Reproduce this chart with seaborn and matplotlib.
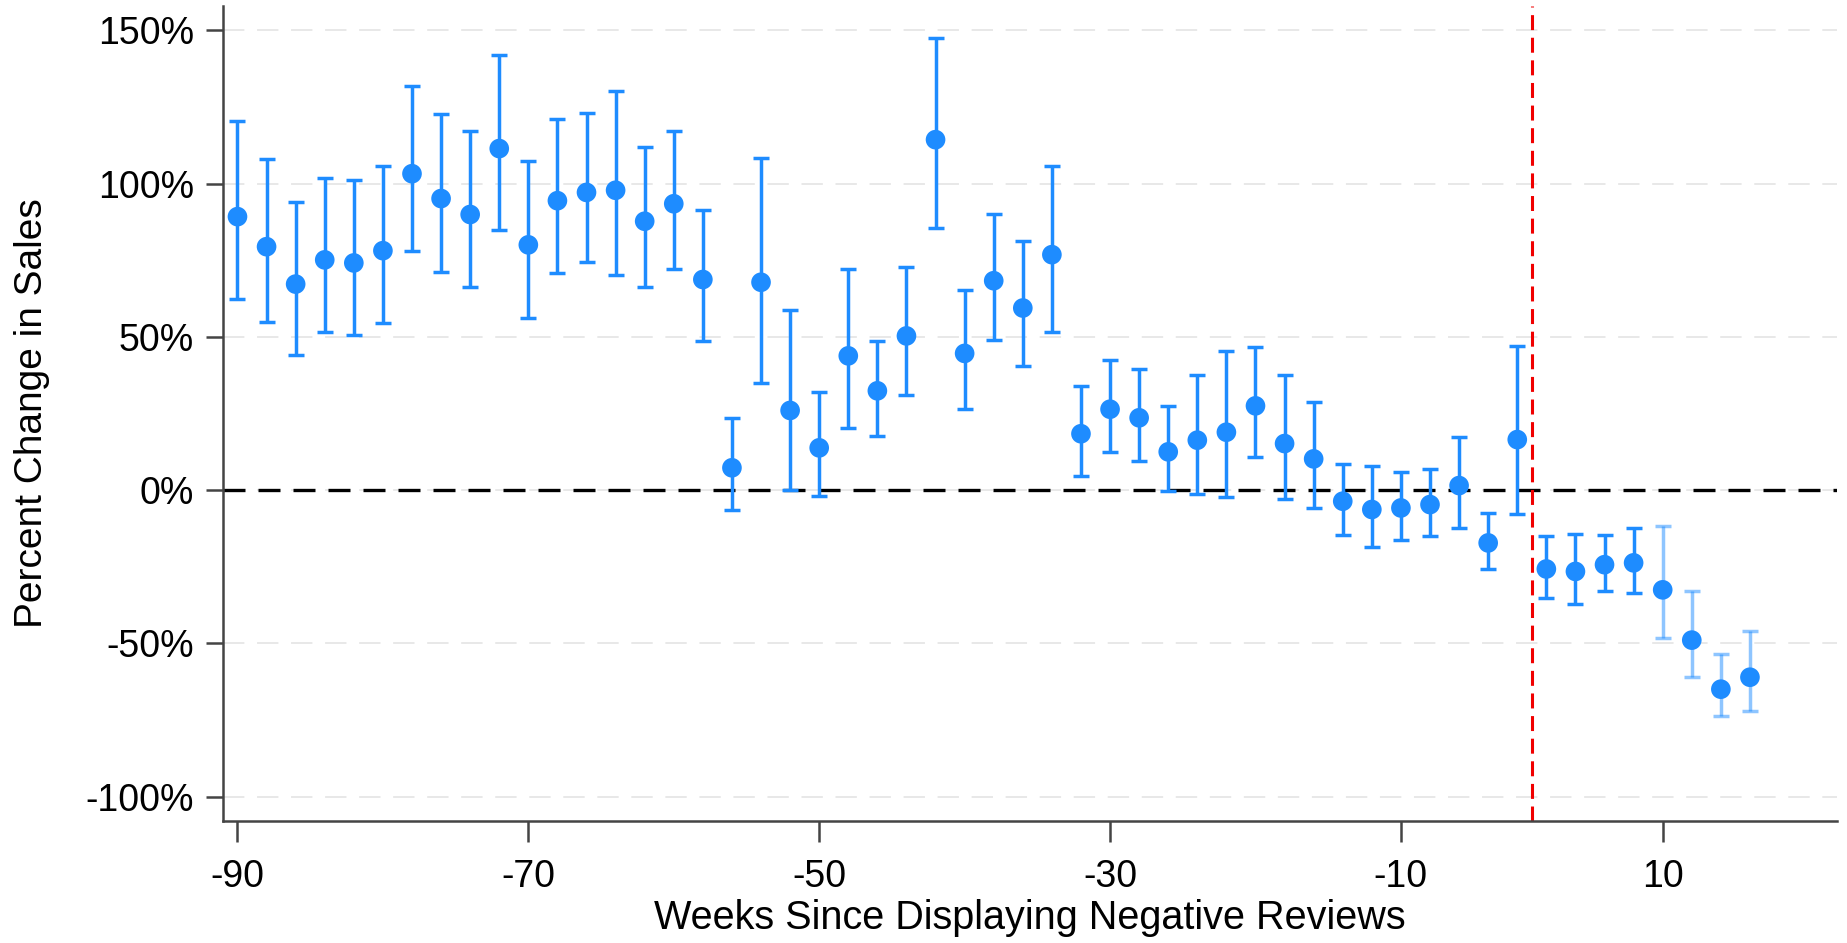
import numpy as np
import pandas as pd
import matplotlib
matplotlib.use("Agg")
import matplotlib.pyplot as plt
import seaborn as sns

# event-time coefficients (percent change in sales) and 95% CIs
weeks = [-90, -88, -86, -84, -82, -80, -78, -76, -74, -72,
         -70, -68, -66, -64, -62, -60, -58, -56, -54, -52,
         -50, -48, -46, -44, -42, -40, -38, -36, -34, -32,
         -30, -28, -26, -24, -22, -20, -18, -16, -14, -12,
         -10, -8, -6, -4, -2, 2, 4, 6, 8, 10, 12, 14, 16]
coef = [89.2, 79.4, 67.2, 75.1, 74.1, 78.1, 103.2, 95.1, 89.9, 111.4,
        80.0, 94.4, 97.1, 97.8, 87.7, 93.4, 68.7, 7.3, 67.8, 26.0,
        13.8, 43.8, 32.4, 50.3, 114.3, 44.6, 68.3, 59.4, 76.8, 18.4,
        26.4, 23.6, 12.5, 16.3, 18.9, 27.5, 15.2, 10.2, -3.6, -6.3,
        -5.8, -4.7, 1.5, -17.2, 16.5, -25.7, -26.5, -24.3, -23.7, -32.5,
        -48.9, -64.9, -61.0]
ci_high = [120.4, 108.0, 94.1, 101.7, 101.3, 105.6, 131.8, 122.7, 117.0, 142.0,
           107.5, 121.1, 123.1, 130.2, 111.8, 117.0, 91.4, 23.6, 108.2, 58.7,
           32.0, 72.0, 48.7, 72.9, 147.5, 65.4, 90.1, 81.1, 105.8, 33.9,
           42.5, 39.5, 27.5, 37.6, 45.3, 46.7, 37.4, 28.8, 8.4, 7.8,
           5.9, 7.0, 17.5, -7.5, 46.9, -14.9, -14.3, -14.5, -12.3, -11.8,
           -32.8, -53.4, -45.8]
ci_low = [62.5, 54.7, 44.0, 51.7, 50.7, 54.5, 78.0, 71.2, 66.1, 84.9,
          56.2, 70.9, 74.3, 70.2, 66.4, 72.0, 48.8, -6.5, 35.1, 0.0,
          -2.0, 20.4, 17.6, 30.9, 85.6, 26.4, 49.0, 40.6, 51.7, 4.6,
          12.4, 9.6, -0.3, -1.4, -2.3, 10.9, -3.0, -5.8, -14.5, -18.5,
          -16.1, -15.0, -12.4, -25.7, -7.7, -35.1, -37.0, -33.0, -33.6, -48.3,
          -61.0, -73.7, -72.0]
faded_weeks = [10, 12, 14, 16]
xtick_weeks = [-90, -70, -50, -30, -10, 10]
ytick_vals = [-100, -50, 0, 50, 100, 150]

df = pd.DataFrame({"week": weeks, "coef": coef, "lo": ci_low, "hi": ci_high})
df["pos"] = np.arange(len(df))
df["faded"] = df["week"].isin(faded_weeks)

sns.set_theme(style="white")
plt.rcParams["font.family"] = ["Liberation Sans", "DejaVu Sans"]

blue = "#1E8CFF"
axis_grey = "#444444"
fig = plt.figure(figsize=(18.47, 9.43), dpi=100)
ax = fig.add_axes([0.1207, 0.129, 0.874, 0.865])

# light dashed gridlines at each y tick
for v in ytick_vals:
    ax.axhline(v, color="#E8E8E8", lw=1.4, dashes=(11, 6.5), zorder=0)

for faded, sub in df.groupby("faded"):
    ax.errorbar(sub["pos"], sub["coef"],
                yerr=[sub["coef"] - sub["lo"], sub["hi"] - sub["coef"]],
                fmt="none", ecolor=blue, elinewidth=2.5, capsize=6, capthick=2.5,
                alpha=0.5 if faded else 1.0, zorder=2)
sns.scatterplot(data=df, x="pos", y="coef", ax=ax, color=blue, s=200,
                edgecolor="none", zorder=3, legend=False)

ax.axhline(0, color="black", lw=2.4, dashes=(6.6, 3.9), zorder=1)
pre_last = df.loc[df["week"] < 0, "pos"].max()
ax.axvline(pre_last + 0.5, color="#F00000", lw=2.2, dashes=(4.9, 2.5), zorder=1)

ax.set_xlim(-0.5, 55)
ax.set_ylim(-108, 158)
pos_of = dict(zip(df["week"], df["pos"]))
ax.set_xticks([pos_of[w] for w in xtick_weeks])
ax.set_xticklabels([str(w) for w in xtick_weeks], fontsize=27)
ax.set_yticks(ytick_vals)
ax.set_yticklabels([f"{v}%" for v in ytick_vals], fontsize=27)

ax.set_xlabel("Weeks Since Displaying Negative Reviews", fontsize=28.5,
              labelpad=3, color="black")
ax.set_ylabel("Percent Change in Sales", fontsize=28, color="black")
ax.yaxis.set_label_coords(-0.107, 0.5)

sns.despine(ax=ax)
for side in ["left", "bottom"]:
    ax.spines[side].set_color(axis_grey)
    ax.spines[side].set_linewidth(1.8)
ax.tick_params(axis="x", direction="out", length=15, width=1.8, color=axis_grey,
               bottom=True, pad=12, labelcolor="black")
ax.tick_params(axis="y", direction="out", length=12, width=1.8, color=axis_grey,
               left=True, pad=9, labelcolor="black")

fig.savefig("out.png", dpi=100)
